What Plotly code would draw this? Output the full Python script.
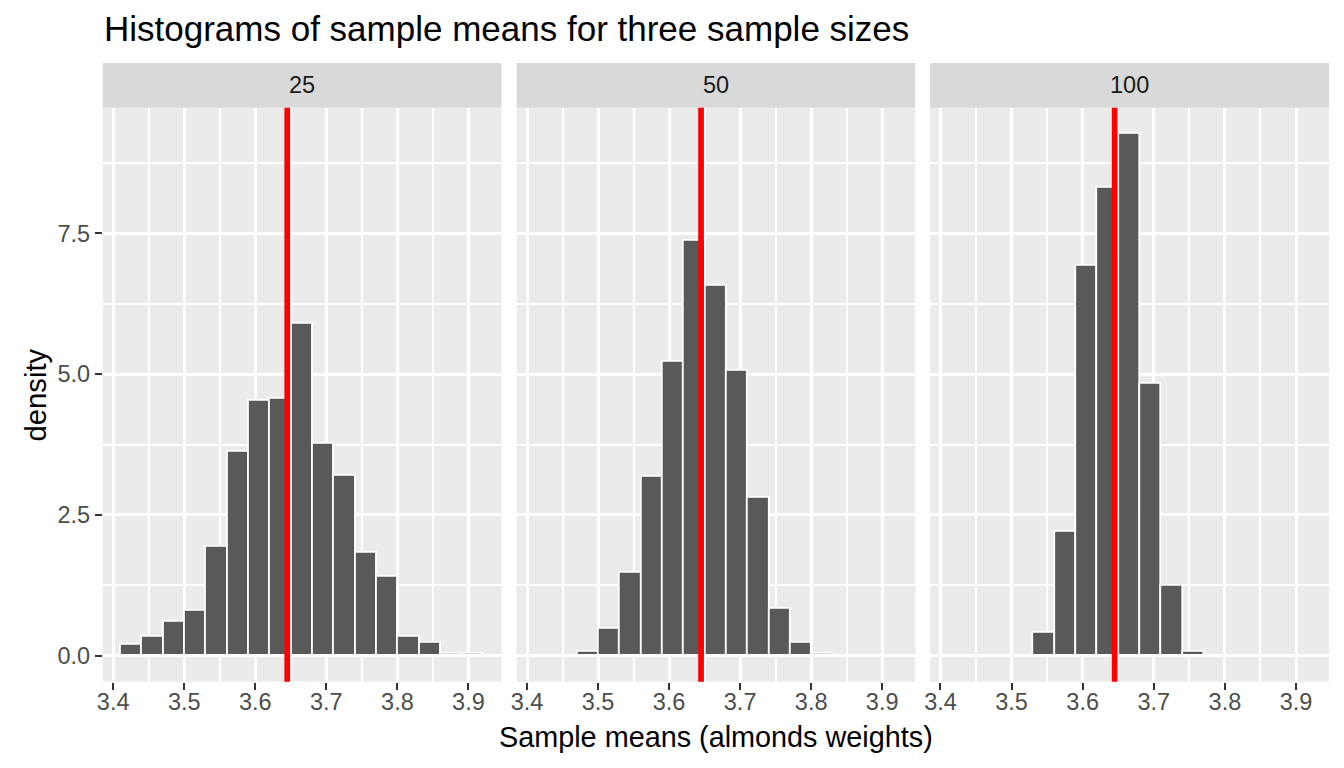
import plotly.graph_objects as go

# ---- data ----
panels = ["25", "50", "100"]
bin_left = 3.411
bin_width = 0.03
n_bins = 17
density_25 = [0.20, 0.33, 0.60, 0.80, 1.93, 3.63, 4.53, 4.57, 5.90, 3.77, 3.20, 1.83, 1.40, 0.33, 0.23, 0.033, 0.033]
density_50 = [0.0, 0.0, 0.07, 0.47, 1.47, 3.17, 5.23, 7.37, 6.57, 5.07, 2.80, 0.83, 0.23, 0.033, 0.0, 0.0, 0.0]
density_100 = [0.0, 0.0, 0.0, 0.0, 0.40, 2.20, 6.93, 8.32, 9.27, 4.83, 1.25, 0.067, 0.0, 0.0, 0.0, 0.0, 0.0]
pop_mean = 3.645
x_ticks = [3.4, 3.5, 3.6, 3.7, 3.8, 3.9]
y_ticks = [0.0, 2.5, 5.0, 7.5]
y_tick_labels = ["0.0", "2.5", "5.0", "7.5"]
title = "Histograms of sample means for three sample sizes"
x_title = "Sample means (almonds weights)"
y_title = "density"

W, H = 1344, 768
FONT = "Liberation Sans, Arial, sans-serif"

centers = [bin_left + bin_width * (i + 0.5) for i in range(n_bins)]
x_range = [bin_left - 0.0255, bin_left + n_bins * bin_width + 0.0255]
ymax = max(density_25 + density_50 + density_100)
y_range = [-0.05 * ymax, ymax * 1.05]

panel_px = [(97.3, 497.7), (513.0, 913.3), (928.3, 1329.0)]
top_px, bottom_px = 107.7, 681.7
strip_top_px = 63.0

def px_x(v):
    return v / W

def px_y(v):
    return 1 - v / H

fig = go.Figure()
all_d = [density_25, density_50, density_100]
for i, d in enumerate(all_d):
    sfx = "" if i == 0 else str(i + 1)
    fig.add_trace(go.Bar(
        x=centers, y=d, width=bin_width,
        marker=dict(color="#595959", line=dict(color="white", width=1.8)),
        xaxis="x" + sfx, yaxis="y" + sfx, showlegend=False, hoverinfo="x+y",
    ))

layout = dict(
    width=W, height=H,
    margin=dict(l=0, r=0, t=0, b=0),
    paper_bgcolor="white", plot_bgcolor="#EBEBEB",
    bargap=0, showlegend=False,
    font=dict(family=FONT, color="#4D4D4D"),
)
shapes = []
annotations = []
for i, (x0, x1) in enumerate(panel_px):
    sfx = "" if i == 0 else str(i + 1)
    layout["xaxis" + sfx] = dict(
        domain=[px_x(x0), px_x(x1)], range=x_range, anchor="y" + sfx,
        tickmode="array", tickvals=x_ticks, ticktext=[f"{v:.1f}" for v in x_ticks],
        ticks="outside", ticklen=7, tickwidth=2.2, tickcolor="#333333",
        ticklabelstandoff=-8,
        tickfont=dict(size=23.5, color="#4D4D4D", family=FONT),
        showgrid=True, gridcolor="white", gridwidth=3, zeroline=False,
        showline=False,
        minor=dict(tickmode="array", tickvals=[3.45, 3.55, 3.65, 3.75, 3.85],
                   showgrid=True, gridcolor="white", gridwidth=1.5, ticks=""),
    )
    layout["yaxis" + sfx] = dict(
        domain=[px_y(bottom_px), px_y(top_px)], range=y_range, anchor="x" + sfx,
        tickmode="array", tickvals=y_ticks, ticktext=y_tick_labels,
        ticks="outside" if i == 0 else "", ticklen=7, tickwidth=2.2, tickcolor="#333333",
        showticklabels=(i == 0),
        tickfont=dict(size=23.5, color="#4D4D4D", family=FONT),
        showgrid=True, gridcolor="white", gridwidth=3, zeroline=False,
        showline=False,
        minor=dict(tickmode="array", tickvals=[1.25, 3.75, 6.25, 8.75],
                   showgrid=True, gridcolor="white", gridwidth=1.5, ticks=""),
    )
    if i > 0:
        layout["yaxis" + sfx]["matches"] = "y"
    # vertical line at the population mean
    shapes.append(dict(type="line", xref="x" + sfx, yref=("y" + sfx) + " domain",
                       x0=pop_mean, x1=pop_mean, y0=0, y1=1,
                       line=dict(color="#FF0000", width=5.7), layer="above"))
    # facet strip
    shapes.append(dict(type="rect", xref="paper", yref="paper",
                       x0=px_x(x0), x1=px_x(x1), y0=px_y(top_px), y1=px_y(strip_top_px),
                       fillcolor="#D9D9D9", line=dict(width=0), layer="below"))
    annotations.append(dict(text=panels[i], xref="paper", yref="paper",
                            x=px_x((x0 + x1) / 2), y=px_y((top_px + strip_top_px) / 2),
                            xanchor="center", yanchor="middle", showarrow=False,
                            font=dict(size=23.5, color="#1A1A1A", family=FONT)))

annotations.append(dict(text=title, xref="paper", yref="paper",
                        x=px_x(96), y=px_y(28), xanchor="left", yanchor="middle",
                        showarrow=False, font=dict(size=35, color="black", family=FONT)))
annotations.append(dict(text=x_title, xref="paper", yref="paper",
                        x=px_x((panel_px[0][0] + panel_px[2][1]) / 2), y=px_y(737),
                        xanchor="center", yanchor="middle", showarrow=False,
                        font=dict(size=28.8, color="black", family=FONT)))
annotations.append(dict(text=y_title, xref="paper", yref="paper",
                        x=px_x(30), y=px_y((top_px + bottom_px) / 2), textangle=-90,
                        xanchor="center", yanchor="middle", showarrow=False,
                        font=dict(size=29.3, color="black", family=FONT)))

layout["shapes"] = shapes
layout["annotations"] = annotations
fig.update_layout(**layout)
fig.write_html("out.html", config={"displayModeBar": False},
               post_script="document.body.style.margin='0';document.body.style.overflow='hidden';")
